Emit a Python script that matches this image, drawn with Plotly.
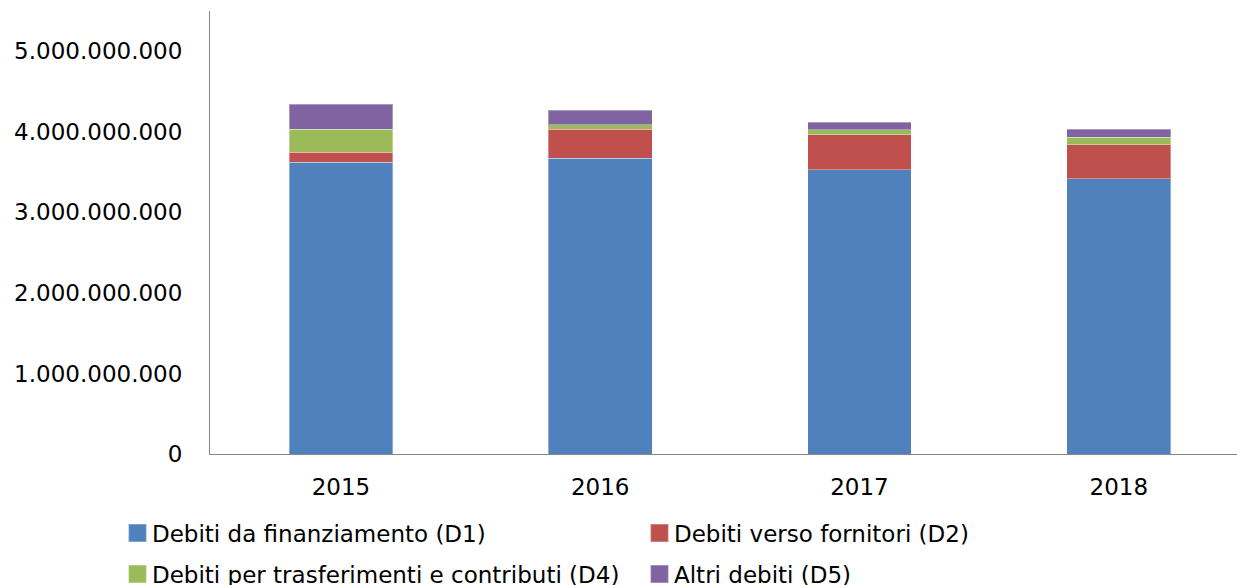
import plotly.graph_objects as go

years = ["2015", "2016", "2017", "2018"]
d1 = [3.624e9, 3.673e9, 3.528e9, 3.416e9]
d2 = [0.124e9, 0.356e9, 0.438e9, 0.426e9]
d4 = [0.281e9, 0.058e9, 0.059e9, 0.092e9]
d5 = [0.315e9, 0.183e9, 0.095e9, 0.095e9]

series = [
    ("Debiti da finanziamento (D1)", d1, "#4F81BD", "legend"),
    ("Debiti verso fornitori (D2)", d2, "#C0504D", "legend2"),
    ("Debiti per trasferimenti e contributi (D4)", d4, "#9BBB59", "legend3"),
    ("Altri debiti (D5)", d5, "#8064A2", "legend4"),
]

tickvals = [0, 1e9, 2e9, 3e9, 4e9, 5e9]
ticktext = ["0", "1.000.000.000", "2.000.000.000", "3.000.000.000", "4.000.000.000", "5.000.000.000"]

FONT = "DejaVu Sans"
W, H = 1237, 585

fig = go.Figure()
for name, vals, color, lg in series:
    fig.add_trace(go.Bar(
        x=years, y=vals, name=name, legend=lg,
        marker=dict(color=color, line=dict(color="rgba(255,255,255,0.35)", width=1)),
    ))

legend_common = dict(
    orientation="h", xanchor="left", yanchor="middle",
    xref="container", yref="container",
    font=dict(family=FONT, size=23, color="#000000"),
    bgcolor="rgba(0,0,0,0)",
)

fig.update_layout(
    barmode="stack",
    bargap=0.6,
    width=W, height=H,
    margin=dict(l=210, r=0, t=11, b=131, autoexpand=False),
    plot_bgcolor="white", paper_bgcolor="white",
    font=dict(family=FONT, size=23, color="#000000"),
    showlegend=True,
    legend=dict(x=112 / W, y=1 - 533 / H, **legend_common),
    legend2=dict(x=634 / W, y=1 - 533 / H, **legend_common),
    legend3=dict(x=112 / W, y=1 - 574 / H, **legend_common),
    legend4=dict(x=634 / W, y=1 - 574 / H, **legend_common),
)
fig.update_xaxes(
    type="category", range=[-0.505, 3.456], automargin=False,
    showline=True, linecolor="#868686", linewidth=1,
    ticks="", showgrid=False, ticklabelstandoff=12,
)
fig.update_yaxes(
    range=[0, 5.5e9], tickvals=tickvals, ticktext=ticktext, automargin=False,
    showline=True, linecolor="#868686", linewidth=1,
    ticks="", showgrid=False, zeroline=False, ticklabelstandoff=22,
)

post = (
    "document.body.style.margin='0';document.body.style.overflow='hidden';"
    "document.querySelectorAll('.legendpoints path').forEach(function(p){"
    "p.setAttribute('transform','translate(25.5,0) scale(1.5)');});"
)

fig.write_html("out.html", config={"displayModeBar": False}, post_script=post)
